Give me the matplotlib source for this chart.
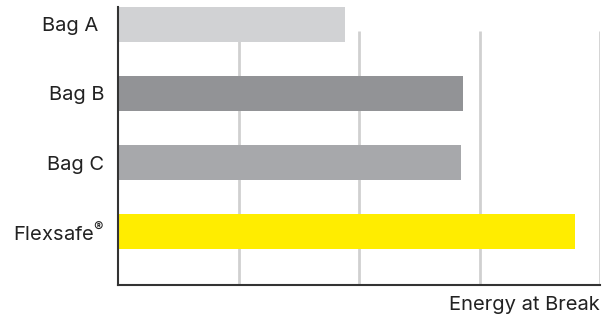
import matplotlib.pyplot as plt

# bar chart: energy at break per bag type
bags = ["Bag A ", "Bag B", "Bag C", "Flexsafe$^{®}$"]
energy = [1.88, 2.86, 2.85, 3.79]
colors = ["#d1d2d4", "#929396", "#a7a8ab", "#ffed00"]
grid_x = [1, 2, 3, 4]

plt.rcParams['font.family'] = ['Inter', 'DejaVu Sans']
plt.rcParams['mathtext.fontset'] = 'custom'
plt.rcParams['mathtext.rm'] = 'Inter'
plt.rcParams['mathtext.it'] = 'Inter'
plt.rcParams['mathtext.default'] = 'rm'

fig = plt.figure(figsize=(6.04, 3.18), dpi=100)
ax = fig.add_axes([118 / 604, 33 / 318, 482 / 604, 278 / 318])

pos = list(range(len(bags)))
ax.set_ylim(3.77, -0.25)
ax.set_xlim(0, 4)

# gridlines start just below the first bar
ax.vlines(grid_x, 0.1, 3.77, color="#d0d0d0", linewidth=2, zorder=0)
ax.barh(pos, energy, height=0.5, color=colors, zorder=2)

ax.set_yticks(pos)
ax.set_yticklabels(bags, fontsize=14.5, color="#222222")
ax.set_xticks([])
ax.tick_params(axis="y", length=0, pad=10)

for s in ["top", "right"]:
    ax.spines[s].set_visible(False)
for s in ["left", "bottom"]:
    ax.spines[s].set_color("#333333")
    ax.spines[s].set_linewidth(1.5)

ax.set_xlabel("Energy at Break", fontsize=14.5, color="#222222", loc="right", labelpad=8)

fig.savefig("out.png", dpi=100)
